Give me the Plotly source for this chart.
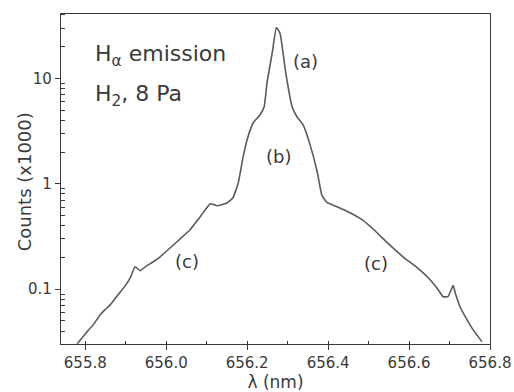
import plotly.graph_objects as go

# Data
wavelength_nm = [655.780, 655.805, 655.820, 655.837, 655.849, 655.862, 655.881, 655.899,
                 655.911, 655.923, 655.936, 655.948, 655.968, 655.985, 656.010, 656.035,
                 656.059, 656.084, 656.109, 656.126, 656.151, 656.165, 656.178, 656.190,
                 656.202, 656.215, 656.232, 656.242, 656.249, 656.262, 656.272, 656.277,
                 656.282, 656.295, 656.311, 656.323, 656.338, 656.356, 656.373, 656.385,
                 656.398, 656.422, 656.454, 656.484, 656.521, 656.546, 656.585, 656.620,
                 656.652, 656.672, 656.684, 656.696, 656.709, 656.714, 656.726, 656.743,
                 656.758, 656.780]
counts_k = [0.0304, 0.0396, 0.0461, 0.0573, 0.0639, 0.0713, 0.0887, 0.108,
            0.128, 0.163, 0.150, 0.163, 0.182, 0.203, 0.247, 0.301,
            0.366, 0.487, 0.646, 0.618, 0.661, 0.737, 1.02, 1.80,
            2.79, 3.79, 4.51, 5.37, 9.06, 17.5, 30.1, 28.8,
            26.0, 11.5, 5.37, 4.32, 3.63, 2.30, 1.30, 0.77,
            0.661, 0.605, 0.531, 0.456, 0.343, 0.276, 0.203, 0.160,
            0.123, 0.0989, 0.0849, 0.0849, 0.108, 0.0927, 0.0682, 0.0514,
            0.0413, 0.0318]

y_tick_vals = [0.1, 1, 10]
y_tick_text = ["0.1", "1", "10"]
y_minor_vals = [0.04, 0.05, 0.06, 0.07, 0.08, 0.09,
                0.2, 0.3, 0.4, 0.5, 0.6, 0.7, 0.8, 0.9,
                2, 3, 4, 5, 6, 7, 8, 9, 20, 30, 40]

labels = ["(a)", "(b)", "(c)", "(c)"]
label_x = [656.343, 656.277, 656.052, 656.519]
label_logy = [1.156, 0.256, -0.739, -0.758]

ink = "#3a3a3a"
font = "DejaVu Sans"

fig = go.Figure()
fig.add_trace(go.Scatter(x=wavelength_nm, y=counts_k, mode="lines",
                         line=dict(color="#5a5a5a", width=1.6, shape="spline", smoothing=0.4),
                         showlegend=False))

for t, x, y in zip(labels, label_x, label_logy):
    fig.add_annotation(x=x, y=y, xref="x", yref="y", text=t, showarrow=False,
                       font=dict(size=18, color=ink, family=font))

fig.add_annotation(x=655.818, y=1.213, xref="x", yref="y", xanchor="left",
                   text="H<sub>α</sub> emission", showarrow=False,
                   font=dict(size=22, color=ink, family=font))
fig.add_annotation(x=655.818, y=0.834, xref="x", yref="y", xanchor="left",
                   text="H<sub>2</sub>, 8 Pa", showarrow=False,
                   font=dict(size=22, color=ink, family=font))

# y-axis title as rotated annotation (sits close to tick labels like the reference)
fig.add_annotation(x=0, y=0.49, xref="paper", yref="paper", xanchor="center", yanchor="middle",
                   xshift=-37, text="Counts (x1000)", textangle=-90, showarrow=False,
                   font=dict(size=18, color=ink, family=font))

fig.update_xaxes(range=[655.74, 656.8], tick0=655.8, dtick=0.2, tickformat=".1f",
                 ticks="outside", ticklen=5, tickcolor=ink, automargin=False,
                 minor=dict(ticks="inside", ticklen=3, dtick=0.1, tick0=655.8, tickcolor=ink, showgrid=False),
                 showline=True, linecolor=ink, linewidth=1.2, mirror=True, showgrid=False,
                 zeroline=False, title=dict(text="λ (nm)", standoff=0, font=dict(size=17, color=ink)),
                 tickfont=dict(size=15, color=ink))
fig.update_yaxes(type="log", range=[-1.52, 1.61], tickmode="array", tickvals=y_tick_vals,
                 ticktext=y_tick_text, ticks="outside", ticklen=5, tickcolor=ink, automargin=False,
                 minor=dict(ticks="inside", ticklen=4, tickmode="array", tickvals=y_minor_vals,
                            tickcolor=ink, showgrid=False),
                 showline=True, linecolor=ink, linewidth=1.2, mirror=True, showgrid=False,
                 zeroline=False, tickfont=dict(size=15, color=ink))

fig.update_layout(width=514, height=392, margin=dict(l=61, r=24, t=14, b=48),
                  paper_bgcolor="white", plot_bgcolor="white",
                  font=dict(family=font, color=ink))

fig.write_html("out.html", config={"displayModeBar": False},
               post_script="document.body.style.margin='0';document.body.style.overflow='hidden';")
